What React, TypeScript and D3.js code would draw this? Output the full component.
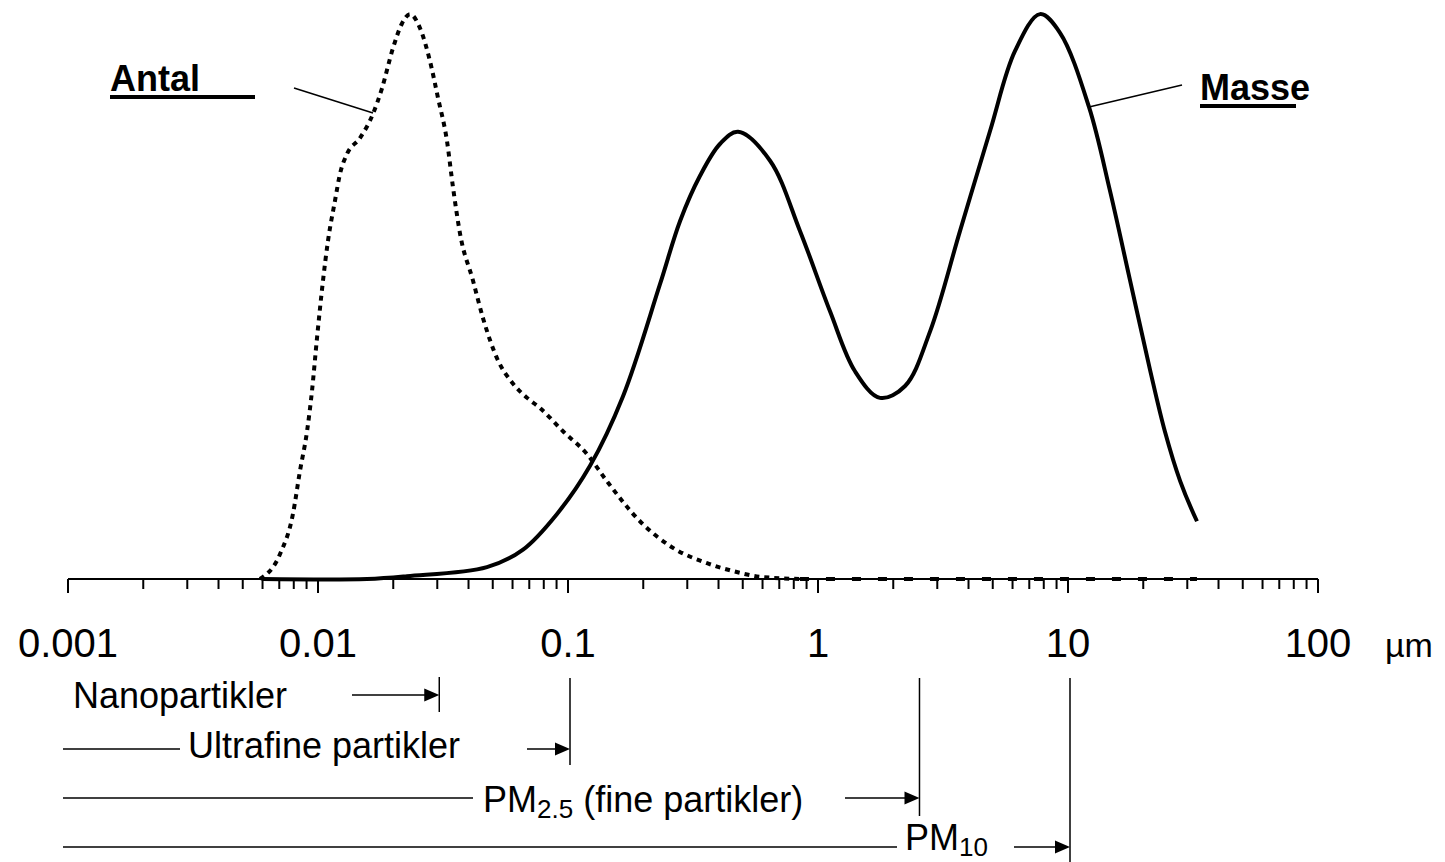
import React from "react";
import * as d3 from "d3";

// particle diameter (µm) and relative amount
const antalDiameter = [0.00586, 0.00705, 0.00794, 0.00847, 0.00904, 0.00946, 0.00991, 0.01047, 0.01096, 0.01169, 0.01225, 0.01306, 0.01472, 0.0166, 0.01803, 0.01995, 0.0217, 0.02333, 0.0256, 0.02805, 0.0302, 0.0328, 0.0347, 0.037, 0.0417, 0.0457, 0.052, 0.0603, 0.0686, 0.0773, 0.0955, 0.119, 0.143, 0.194, 0.263, 0.36, 0.457, 0.586, 0.847, 32.8];
const antalValue = [0, 4.4, 11.5, 19.1, 26.1, 33.2, 42.6, 52.7, 59.7, 66.8, 71.6, 75.1, 77.9, 82.2, 86.7, 93.8, 98.2, 99.8, 97.3, 91.5, 85.0, 77.4, 69.1, 61.0, 52.7, 46.1, 39.0, 34.5, 32.0, 30.2, 26.1, 22.1, 17.3, 10.2, 5.5, 2.8, 1.4, 0.4, 0, 0];

const masseDiameter = [0.006, 0.0157, 0.0227, 0.0474, 0.0661, 0.0904, 0.1225, 0.166, 0.233, 0.281, 0.337, 0.406, 0.479, 0.643, 0.847, 1.117, 1.406, 1.77, 2.23, 2.81, 3.7, 4.88, 6.14, 7.73, 9.29, 12.13, 14.7, 17.7, 21.3, 24.4, 28.1, 32.8];
const masseValue = [0, 0, 0.5, 2.1, 5.2, 11.5, 20.0, 32.3, 52.0, 63.3, 71.2, 76.9, 79.0, 73.9, 61.5, 47.3, 36.7, 32.0, 34.1, 43.8, 61.5, 79.2, 93.3, 99.8, 96.5, 83.4, 68.7, 52.8, 36.9, 26.1, 17.3, 10.2];

const tickValues = [0.001, 0.01, 0.1, 1, 10, 100];
const tickLabels = ["0.001", "0.01", "0.1", "1", "10", "100"];
const unitLabel = "µm";

const rangeNames = ["Nanopartikler", "Ultrafine partikler", "PM", "PM"];
const rangeSubs = ["", "", "2.5", "10"];
const rangeRest = ["", "", " (fine partikler)", ""];
const rangeLimits = [0.03, 0.1, 2.5, 10];

const W = 1445;
const H = 862;
const font = "'Liberation Sans', Arial, sans-serif";

// layout of the size-range rows under the axis
const rowLayout = [
  { lineY: 695, textX: 73, textY: 708, leftEnd: null as number | null, arrowStart: 352, top: 677, bottom: 712 },
  { lineY: 749, textX: 188, textY: 758, leftEnd: 180, arrowStart: 527, top: 678, bottom: 765 },
  { lineY: 798, textX: 483, textY: 812, leftEnd: 473, arrowStart: 845, top: 678, bottom: 816 },
  { lineY: 847, textX: 905, textY: 850, leftEnd: 897, arrowStart: 1014, top: 678, bottom: 862 },
];

export default function App() {
  const x = d3.scaleLog().domain([0.001, 100]).range([68, 1318]);
  const y = d3.scaleLinear().domain([0, 100]).range([579, 13]);

  const antalLine = d3
    .line<[number, number]>()
    .x((d) => x(d[0]))
    .y((d) => y(d[1]))
    .curve(d3.curveMonotoneX);
  const masseLine = d3
    .line<[number, number]>()
    .x((d) => x(d[0]))
    .y((d) => y(d[1]))
    .curve(d3.curveCatmullRom.alpha(0.5));

  const antal = antalDiameter.map((d, i) => [d, antalValue[i]] as [number, number]);
  const cut = antalDiameter.findIndex((d) => d > 0.8);
  const antalCurve = antal.slice(0, cut + 1);
  const antalTail = antal.slice(cut);
  const masse = masseDiameter.map((d, i) => [d, masseValue[i]] as [number, number]);

  const ticks = x.ticks();
  const isMajor = (t: number) => Math.abs(Math.log10(t) - Math.round(Math.log10(t))) < 1e-6;
  const axisY = y(0);

  return (
    <svg width={W} height={H} style={{ position: "absolute", left: 0, top: 0, background: "#fff" }}>
      {/* axis */}
      <line x1={x(0.001)} x2={x(100)} y1={axisY} y2={axisY} stroke="#000" strokeWidth={2} />
      {ticks.map((t, i) => (
        <line key={i} x1={x(t)} x2={x(t)} y1={axisY} y2={axisY + (isMajor(t) ? 14 : 10)} stroke="#000" strokeWidth={2} />
      ))}
      {tickValues.map((t, i) => (
        <text key={i} x={x(t)} y={657} textAnchor="middle" fontFamily={font} fontSize={40}>
          {tickLabels[i]}
        </text>
      ))}
      <text x={1385} y={657} fontFamily={font} fontSize={34}>{unitLabel}</text>

      {/* curves */}
      <path d={antalLine(antalCurve) || ""} fill="none" stroke="#000" strokeWidth={4} strokeDasharray="5 5" />
      <path d={antalLine(antalTail) || ""} fill="none" stroke="#000" strokeWidth={4} strokeDasharray="9 17" />
      <path d={masseLine(masse) || ""} fill="none" stroke="#000" strokeWidth={4} />

      {/* labels */}
      <text x={110} y={91} fontFamily={font} fontSize={36} fontWeight="bold">Antal</text>
      <rect x={110} y={95} width={145} height={4} fill="#000" />
      <line x1={294} y1={88} x2={373} y2={113} stroke="#000" strokeWidth={1.5} />
      <text x={1200} y={100} fontFamily={font} fontSize={36} fontWeight="bold">Masse</text>
      <rect x={1200} y={104} width={96} height={4} fill="#000" />
      <line x1={1182} y1={85} x2={1089} y2={107} stroke="#000" strokeWidth={1.5} />

      {/* size ranges */}
      {rangeNames.map((name, i) => {
        const r = rowLayout[i];
        const lim = x(rangeLimits[i]) + 2;
        return (
          <g key={i}>
            {r.leftEnd !== null && <line x1={63} x2={r.leftEnd} y1={r.lineY} y2={r.lineY} stroke="#000" strokeWidth={1.5} />}
            <text x={r.textX} y={r.textY} fontFamily={font} fontSize={36}>
              {name}
              {rangeSubs[i] && (
                <tspan fontSize={26} dy={6}>{rangeSubs[i]}</tspan>
              )}
              {rangeRest[i] && <tspan dy={-6}>{rangeRest[i]}</tspan>}
            </text>
            <line x1={r.arrowStart} x2={lim - 10} y1={r.lineY} y2={r.lineY} stroke="#000" strokeWidth={1.5} />
            <path d={`M${lim},${r.lineY} L${lim - 15},${r.lineY - 6.5} L${lim - 15},${r.lineY + 6.5} Z`} fill="#000" />
            <line x1={lim} x2={lim} y1={r.top} y2={r.bottom} stroke="#000" strokeWidth={1.5} />
          </g>
        );
      })}
    </svg>
  );
}
